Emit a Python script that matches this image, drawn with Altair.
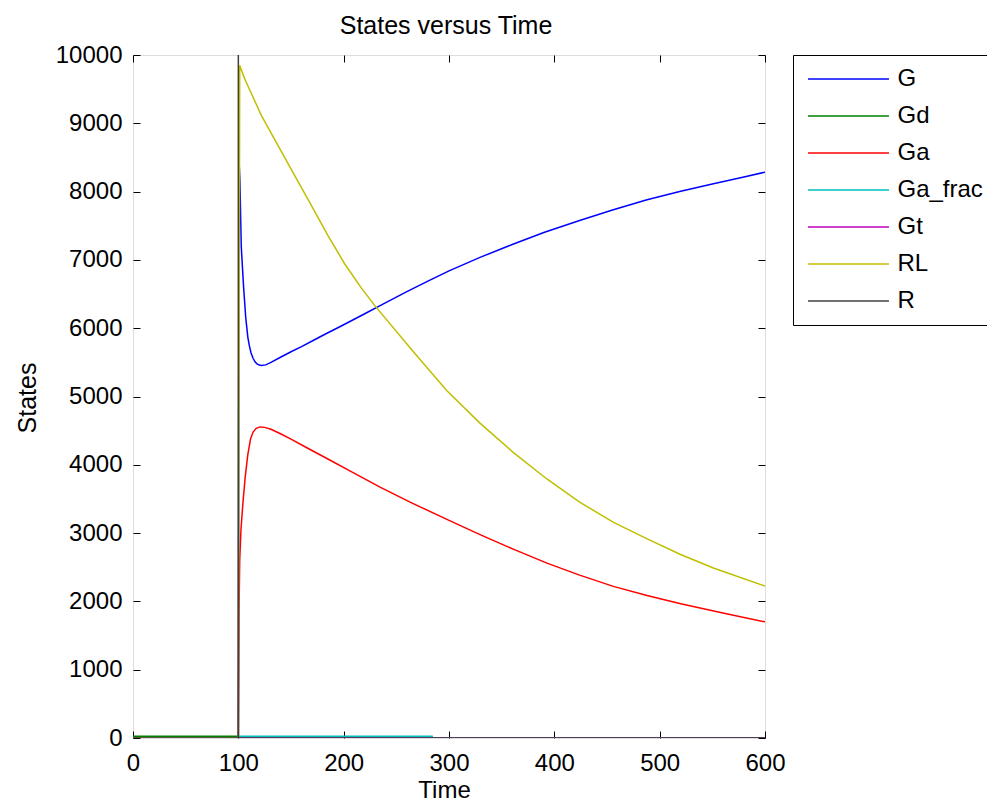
import altair as alt
import pandas as pd

# ---- data ----
series_names = ["G", "Gd", "Ga", "Ga_frac", "Gt", "RL", "R"]
series_colors = ["#0000ff", "#008000", "#ff0000", "#00bfbf", "#bf00bf", "#bfbf00", "#404040"]

G_t = [0, 100, 100.6, 101.5, 102.8, 105, 107, 109, 110.5, 112, 114, 116, 118, 120, 122, 126, 131,
       140, 150, 160, 171, 180, 200, 220, 240, 260, 280, 300, 330, 360, 390, 424, 456, 488, 520, 551, 580, 600]
G_v = [0, 0, 8480, 8160, 7190, 6600, 6160, 5870, 5740, 5640, 5560, 5505, 5475, 5460, 5455, 5463, 5500,
       5575, 5655, 5730, 5820, 5893, 6050, 6212, 6375, 6535, 6690, 6840, 7040, 7225, 7400, 7577, 7735, 7882, 8005, 8115, 8215, 8285]

Gd_t = [0, 100, 100.5, 600]
Gd_v = [25, 25, 0, 0]

Ga_t = [0, 100, 100.6, 101.3, 102.5, 104.4, 106.5, 109, 111.6, 114, 117, 120.5, 125, 131, 140, 150,
        165, 185, 205, 235, 265, 298, 330, 361, 393, 424, 456, 488, 520, 560, 600]
Ga_v = [0, 0, 1800, 2600, 3050, 3450, 3815, 4150, 4380, 4480, 4535, 4555, 4548, 4520, 4455, 4375,
        4250, 4085, 3918, 3670, 3440, 3200, 2975, 2765, 2560, 2385, 2220, 2085, 1965, 1830, 1700]

Gafrac_t = [0, 100, 100.5, 284, 284.5, 600]
Gafrac_v = [0, 0, 25, 25, 0, 0]

Gt_t = [0, 600]
Gt_v = [0, 0]

RL_t = [0, 100, 101.3, 106, 121.8, 137.6, 153.4, 169.3, 185, 200.9, 216.7, 229.4, 266, 297.8,
        329.4, 360.6, 392.6, 424, 455.8, 487.7, 519.3, 551, 600]
RL_v = [0, 0, 9848, 9653, 9116, 8677, 8237, 7798, 7359, 6944, 6590, 6334, 5660, 5089,
        4610, 4186, 3796, 3454, 3161, 2918, 2690, 2490, 2225]

R_t = [0, 99.9, 100, 100.1, 600]
R_v = [0, 0, 10000, 0, 0]

x_ticks = [0, 100, 200, 300, 400, 500, 600]
y_ticks = [0, 1000, 2000, 3000, 4000, 5000, 6000, 7000, 8000, 9000, 10000]

all_t = [G_t, Gd_t, Ga_t, Gafrac_t, Gt_t, RL_t, R_t]
all_v = [G_v, Gd_v, Ga_v, Gafrac_v, Gt_v, RL_v, R_v]

rows = []
for name, ts, vs in zip(series_names, all_t, all_v):
    for t, v in zip(ts, vs):
        rows.append({"Time": t, "States": v, "series": name})
df = pd.DataFrame(rows)

W, H = 632, 683
FONT = "Liberation Sans"

x_enc = alt.X("Time:Q",
              scale=alt.Scale(domain=[0, 600], nice=False, zero=False),
              axis=alt.Axis(values=x_ticks, format="d", labelFlush=False, labelOverlap=False,
                            ticks=False, tickSize=0, domain=False,
                            grid=True, gridColor="black", gridDash=[7, H - 14], gridWidth=1, gridOpacity=1,
                            labelFontSize=24, labelFont=FONT, labelColor="black",
                            labelPadding=32, labelBaseline="alphabetic",
                            title="Time", titleFontSize=24, titleFont=FONT, titleFontWeight="normal",
                            titleColor="black", titleX=311, titleY=59, titleBaseline="alphabetic"))
y_enc = alt.Y("States:Q",
              scale=alt.Scale(domain=[0, 10000], nice=False),
              axis=alt.Axis(values=y_ticks, format="d", labelFlush=False, labelOverlap=False,
                            ticks=False, tickSize=0, domain=False,
                            grid=True, gridColor="black", gridDash=[7, W - 14], gridWidth=1, gridOpacity=1,
                            labelFontSize=24, labelFont=FONT, labelColor="black", labelPadding=11,
                            title="States", titleFontSize=25, titleFont=FONT, titleFontWeight="normal",
                            titleColor="black", titleX=-98, titleY=H / 2 + 1, titleAngle=270,
                            titleBaseline="alphabetic", titleAlign="center"))
color_enc = alt.Color("series:N",
                      scale=alt.Scale(domain=series_names, range=series_colors),
                      sort=series_names,
                      legend=alt.Legend(orient="none", legendX=660, legendY=0, title=None,
                                        symbolType="M-5,0H5", symbolSize=262, symbolStrokeWidth=1.5,
                                        symbolOffset=31.5, labelOffset=37,
                                        labelFontSize=24, labelFont=FONT, labelColor="black",
                                        labelLimit=300, padding=12, rowPadding=13,
                                        strokeColor="black", fillColor="white", cornerRadius=0))

base = alt.Chart(df).mark_line(strokeWidth=1.5, clip=True).encode(
    x=x_enc, y=y_enc, color=color_enc
)

layers = [base.transform_filter(alt.datum.series == name) for name in series_names]

chart = alt.layer(*layers).properties(
    width=W,
    height=H,
    title=alt.TitleParams("States versus Time", fontSize=25, font=FONT, fontWeight="normal",
                          color="black", anchor="middle", frame="group", offset=20,
                          baseline="alphabetic", dx=-3, dy=36),
    autosize=alt.AutoSizeParams(type="none"),
    padding={"left": 125, "top": 47, "right": 222, "bottom": 64},
).configure_view(stroke="black", strokeWidth=1).configure(background="white")

chart.save("out.html", embed_options={"renderer": "svg", "actions": False})
